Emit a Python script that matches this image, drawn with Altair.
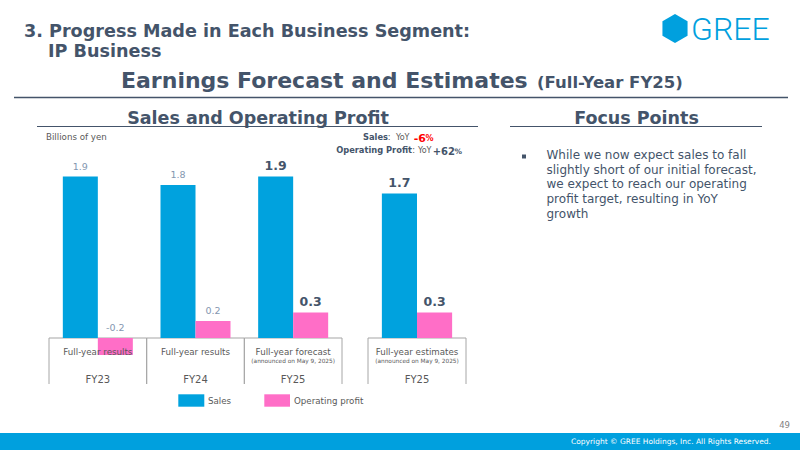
import altair as alt
import pandas as pd

# ---- data -------------------------------------------------------------
periods = ["FY23", "FY24", "FY25", "FY25"]
kinds = ["Full-year results", "Full-year results", "Full-year forecast", "Full-year estimates"]
notes = ["", "", "(announced on May 9, 2025)", "(announced on May 9, 2025)"]
sales = [1.9, 1.8, 1.9, 1.7]
operating_profit = [-0.2, 0.2, 0.3, 0.3]
series_names = ["Sales", "Operating profit"]
series_colors = ["#00A2DE", "#FF6EC7"]

focus_points = [
    "While we now expect sales to fall",
    "slightly short of our initial forecast,",
    "we expect to reach our operating",
    "profit target, resulting in YoY",
    "growth",
]

# ---- styling ----------------------------------------------------------
FONT = "DejaVu Sans"
SLATE = "#44546A"
GREY = "#595959"
SOFT = "#8497B0"
BOX = "#A6A6A6"
BRAND = "#00A0DE"

# ---- tables -----------------------------------------------------------
keys = [f"{k} {p}" for k, p in zip(kinds, periods)]
cats = pd.DataFrame({
    "key": keys,
    "period": periods,
    "kind": kinds,
    "note": notes,
    "panel": ["main" if k != "Full-year estimates" else "side" for k in kinds],
    "emph": [k != "Full-year results" for k in kinds],
})
rows = []
for i, key in enumerate(keys):
    for name, vals in zip(series_names, [sales, operating_profit]):
        v = vals[i]
        rows.append({
            "key": key,
            "series": name,
            "value": v,
            "label": f"{v:.1f}",
            "label_y": max(v, 0.0),
            "panel": cats.loc[i, "panel"],
            "emph": bool(cats.loc[i, "emph"]),
        })
bars = pd.DataFrame(rows)

# value axis: zero line sits on top of the category boxes
Y_DOMAIN = [-112 / 85, 338 / 85]
one = pd.DataFrame({"_": [0]})


def text(t, x, y, size, color=SLATE, weight="normal", align="left",
         baseline="alphabetic", font=FONT, **kw):
    return alt.Chart(one).mark_text(
        text=t, fontSize=size, color=color, fontWeight=weight, align=align,
        baseline=baseline, font=font, **kw
    ).encode(x=alt.value(x), y=alt.value(y))


def hline(x1, x2, y, color=SLATE, width=1.0):
    return alt.Chart(one).mark_rule(color=color, strokeWidth=width).encode(
        x=alt.value(x1), x2=alt.value(x2), y=alt.value(y))


def box(x1, x2, y1, y2, color):
    return alt.Chart(one).mark_rect(color=color).encode(
        x=alt.value(x1), x2=alt.value(x2), y=alt.value(y1), y2=alt.value(y2))


def panel(name, x_range):
    keys_here = [k for k, p in zip(keys, cats["panel"]) if p == name]
    b = bars[bars["panel"] == name]
    c = cats[cats["panel"] == name]

    def xpos(band_position=None):
        kw = {} if band_position is None else {"bandPosition": band_position}
        return alt.X("key:N", sort=keys_here, axis=None,
                     scale=alt.Scale(range=x_range, paddingInner=0, paddingOuter=0), **kw)

    x = xpos()
    xo = alt.XOffset("series:N", sort=series_names,
                     scale=alt.Scale(paddingInner=0, paddingOuter=0.395))
    y = alt.Y("value:Q", axis=None, stack=None,
              scale=alt.Scale(domain=Y_DOMAIN, nice=False, zero=False))
    yl = alt.Y("label_y:Q", axis=None,
               scale=alt.Scale(domain=Y_DOMAIN, nice=False, zero=False))

    # category boxes: top edge plus left/right walls, open at the bottom
    top_line = alt.Chart(c).mark_rect(color=BOX).encode(
        x=x, y=alt.value(337.5), y2=alt.value(338.5))
    left_edge = alt.Chart(c).mark_rule(color=BOX, strokeWidth=1).encode(
        x=xpos(0), y=alt.value(338), y2=alt.value(384))
    right_edge = alt.Chart(c).mark_rule(color=BOX, strokeWidth=1).encode(
        x=xpos(1), y=alt.value(338), y2=alt.value(384))

    bar = alt.Chart(b).mark_bar().encode(
        x=x, xOffset=xo, y=y, y2=alt.datum(0),
        color=alt.Color("series:N", sort=series_names, legend=None,
                        scale=alt.Scale(domain=series_names, range=series_colors)))

    kind_t = alt.Chart(c).mark_text(font=FONT, fontSize=8.7, color=GREY, baseline="middle").encode(
        x=x, y=alt.value(352), text="kind:N")
    note_t = alt.Chart(c).mark_text(font=FONT, fontSize=5.8, color=GREY, baseline="middle").encode(
        x=x, y=alt.value(361), text="note:N")
    period_t = alt.Chart(c).mark_text(font=FONT, fontSize=10, color=GREY, baseline="middle").encode(
        x=x, y=alt.value(379.5), text="period:N")

    plain = alt.Chart(b[~b["emph"]]).mark_text(
        font=FONT, fontSize=9.5, color=SOFT, baseline="middle", dy=-10).encode(
        x=x, xOffset=xo, y=yl, text="label:N")
    strong = alt.Chart(b[b["emph"]]).mark_text(
        font=FONT, fontSize=12.5, fontWeight="bold", color=SLATE, baseline="middle", dy=-11).encode(
        x=x, xOffset=xo, y=yl, text="label:N")

    layers = [top_line, left_edge, right_edge, bar, kind_t, note_t, period_t]
    if len(b[~b["emph"]]):
        layers.append(plain)
    if len(b[b["emph"]]):
        layers.append(strong)
    return alt.layer(*layers)


main_panel = panel("main", [49, 342])
side_panel = panel("side", [368, 466])

# ---- slide furniture ----------------------------------------------------
hexagon = "M0,-1L0.866,-0.5L0.866,0.5L0,1L-0.866,0.5L-0.866,-0.5Z"
logo_mark = alt.Chart(one).mark_point(
    shape=hexagon, filled=True, color=BRAND, opacity=1, size=841, strokeWidth=0
).encode(x=alt.value(675), y=alt.value(28.5))

decor = [
    text("3. Progress Made in Each Business Segment:", 24, 36.7, 17.6, weight="bold"),
    text("IP Business", 48, 57.3, 17.6, weight="bold"),
    text("Earnings Forecast and Estimates", 121, 88.3, 22, weight="bold"),
    text("(Full-Year FY25)", 537, 88.3, 16.5, weight="bold"),
    hline(14, 788, 97.5, SLATE, 1.5),
    logo_mark,
    text("GREE", 691, 40, 32, color=BRAND, font="Roboto", weight=300),
    text("Sales and Operating Profit", 258, 124, 17.5, weight="bold", align="center"),
    hline(37, 478, 126.5, SLATE, 1),
    text("Focus Points", 636.5, 123.5, 17.5, weight="bold", align="center"),
    hline(510, 762, 126.5, SLATE, 1),
    text("Billions of yen", 46, 137, 8.7, color=GREY, baseline="middle"),
    # YoY callouts
    text("Sales", 388, 138, 8.3, weight="bold", align="right", baseline="middle"),
    text(":", 390.5, 138, 8.3, color=GREY, align="right", baseline="middle"),
    text("YoY", 409.5, 138, 8, color=GREY, align="right", baseline="middle"),
    text("-6", 426, 138.5, 11, color="#FF0000", weight="bold", align="right", baseline="middle"),
    text("%", 433.5, 139, 8, color="#FF0000", weight="bold", align="right", baseline="middle"),
    text("Operating Profit", 412, 151, 8.3, weight="bold", align="right", baseline="middle"),
    text(":", 415, 151, 8.3, color=GREY, align="right", baseline="middle"),
    text("YoY", 431.5, 151, 8, color=GREY, align="right", baseline="middle"),
    text("+62", 455, 151.5, 10, weight="bold", align="right", baseline="middle"),
    text("%", 462, 152, 7.5, weight="bold", align="right", baseline="middle"),
    # focus points
    box(522, 526, 154.5, 158.5, SLATE),
    text(focus_points, 546.5, 159.3, 12, lineHeight=14.6),
    # legend
    box(178.3, 204.3, 394.3, 406.7, series_colors[0]),
    text("Sales", 208, 401, 8.7, color=GREY, baseline="middle"),
    box(264.3, 290, 394.3, 406.7, series_colors[1]),
    text("Operating profit", 294, 401, 8.7, color=GREY, baseline="middle"),
    # footer
    text("49", 790, 424.5, 8.5, color="#7F7F7F", align="right", baseline="middle"),
    box(0, 800, 433, 450, BRAND),
    text("Copyright \u00a9 GREE Holdings, Inc. All Rights Reserved.", 771, 442.3, 7.5,
         color="#FFFFFF", align="right", baseline="middle"),
]

chart = alt.layer(*decor, main_panel, side_panel).resolve_scale(
    x="independent", xOffset="independent"
).properties(
    width=800, height=450, padding=0, autosize=alt.AutoSizeParams(type="none"),
    background="#FFFFFF",
).configure_view(stroke=None)

chart.save("out.html", embed_options={"renderer": "svg", "actions": False})
